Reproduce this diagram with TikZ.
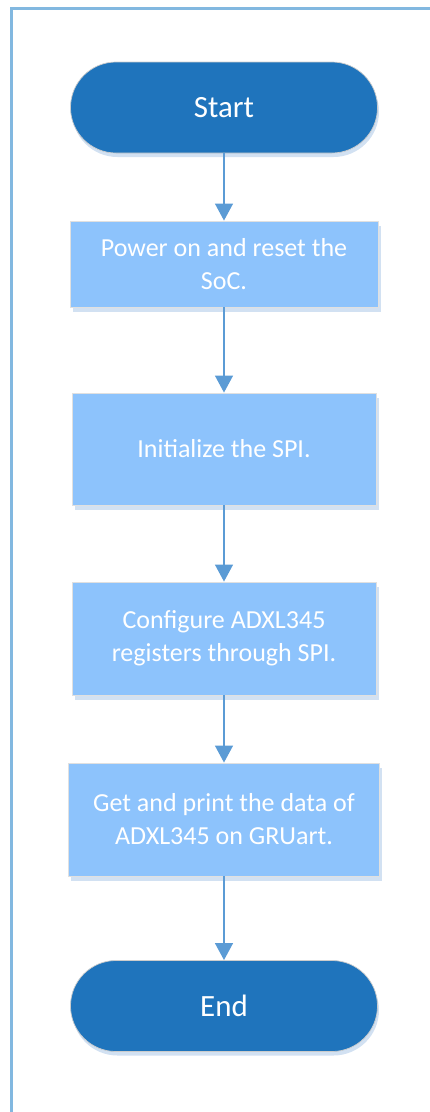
\documentclass[tikz,border=0pt]{standalone}
\usepackage{fontspec}
\setmainfont{Carlito}
\usepackage{tikz}
\usetikzlibrary{positioning,shapes,arrows.meta,shadows}
\definecolor{darkblue}{RGB}{31,116,188}
\definecolor{lightblue}{RGB}{141,195,252}
\definecolor{arrowblue}{RGB}{91,155,213}
\definecolor{frameblue}{RGB}{130,184,224}
\definecolor{shadeblue}{RGB}{210,225,242}
\tikzstyle{term}=[rectangle,rounded corners=0.91cm,minimum width=6.14cm,minimum height=1.82cm,fill=darkblue,draw=black!20,text=white,font=\fontsize{17.6}{21}\selectfont,drop shadow={shadow xshift=0.03cm,shadow yshift=-0.08cm,fill=shadeblue,opacity=1}]
\tikzstyle{stepbox}=[rectangle,fill=lightblue,draw=black!12,text=white,align=center,font=\fontsize{14.8}{18.8}\selectfont,drop shadow={shadow xshift=0.05cm,shadow yshift=-0.1cm,fill=shadeblue,opacity=1}]

\begin{document}
\begin{tikzpicture}[>={Triangle[width=0.35cm,length=0.34cm]}]
  \useasboundingbox (0, 0) rectangle (8.6, -22.24);
  \draw [frameblue, line width=0.05cm] (0.23, -22.24) -- (0.23, -0.17) -- (8.6, -0.17);

  \node [term] at (4.48, -2.15) (start) {Start};
  \node [stepbox, minimum width=6.16cm, minimum height=1.72cm] at (4.48, -5.28) (power) {Power on and reset the\\SoC.};
  \node [stepbox, minimum width=6.08cm, minimum height=2.24cm] at (4.48, -8.98) (init) {Initialize the SPI.};
  \node [stepbox, minimum width=6.08cm, minimum height=2.26cm] at (4.48, -12.77) (config) {Configure ADXL345\\registers through SPI.};
  \node [stepbox, minimum width=6.22cm, minimum height=2.26cm] at (4.48, -16.39) (print) {Get and print the data of\\ADXL345 on GRUart.};
  \node [term] at (4.48, -20.12) (end) {End};

  \draw [->, arrowblue, line width=0.054cm] (start) -- (power);
  \draw [->, arrowblue, line width=0.054cm] (power) -- (init);
  \draw [->, arrowblue, line width=0.054cm] (init) -- (config);
  \draw [->, arrowblue, line width=0.054cm] (config) -- (print);
  \draw [->, arrowblue, line width=0.054cm] (print) -- (end);
\end{tikzpicture}
\end{document}
